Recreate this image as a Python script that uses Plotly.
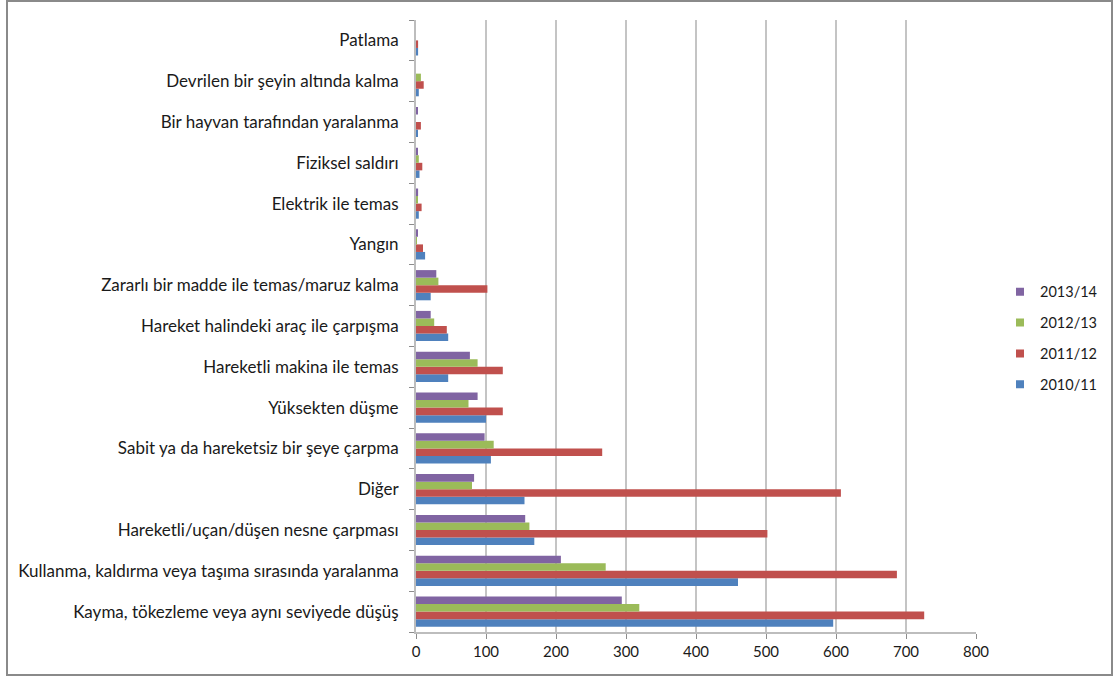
import plotly.graph_objects as go

categories = [
    "Kayma, tökezleme veya aynı seviyede düşüş",
    "Kullanma, kaldırma veya taşıma sırasında yaralanma",
    "Hareketli/uçan/düşen nesne çarpması",
    "Diğer",
    "Sabit ya da hareketsiz bir şeye çarpma",
    "Yüksekten düşme",
    "Hareketli makina ile temas",
    "Hareket halindeki araç ile çarpışma",
    "Zararlı bir madde ile temas/maruz kalma",
    "Yangın",
    "Elektrik ile temas",
    "Fiziksel saldırı",
    "Bir hayvan tarafından yaralanma",
    "Devrilen bir şeyin altında kalma",
    "Patlama",
]

v_2010_11 = [596, 460, 169, 155, 107, 100, 46, 46, 21, 13, 4, 5, 2, 4, 3]
v_2011_12 = [726, 687, 502, 607, 266, 124, 124, 44, 102, 10, 8, 9, 7, 11, 3]
v_2012_13 = [319, 271, 162, 80, 111, 75, 88, 26, 32, 1, 2, 4, 0, 7, 0]
v_2013_14 = [294, 207, 156, 83, 98, 88, 77, 21, 29, 2, 3, 2, 2, 0, 0]

series = [
    ("2010/11", v_2010_11, "#4F81BD"),
    ("2011/12", v_2011_12, "#C0504D"),
    ("2012/13", v_2012_13, "#9BBB59"),
    ("2013/14", v_2013_14, "#8064A2"),
]

x_ticks = [0, 100, 200, 300, 400, 500, 600, 700, 800]

fig = go.Figure()
for name, vals, color in series:
    fig.add_trace(go.Bar(
        y=categories, x=vals, name=name, orientation="h",
        marker=dict(color=color, line=dict(width=0)),
        showlegend=False,
    ))
# legend entries with small square symbols (Excel style), newest on top
n = len(series)
for i, (name, vals, color) in enumerate(series):
    fig.add_trace(go.Scatter(
        x=[None], y=[None], mode="markers", name=name,
        marker=dict(symbol="square", size=8, color=color),
        legendgroup=name, legendrank=n - i, showlegend=True,
    ))

font_family = "Lato, Open Sans, DejaVu Sans, sans-serif"

L, R, T, B = 416, 976, 20, 632
W, H = R - L, B - T

fig.update_layout(
    width=1115, height=677,
    margin=dict(l=L, r=1115 - R, t=T, b=677 - B, autoexpand=False),
    paper_bgcolor="white", plot_bgcolor="white",
    barmode="group", bargap=0.26, bargroupgap=0,
    font=dict(family=font_family, size=15, color="#1a1a1a"),
    showlegend=True,
    legend=dict(
        x=(1000 - L) / W, y=0.582, xanchor="left", yanchor="top",
        traceorder="grouped", tracegroupgap=9,
        font=dict(size=14.5, color="#1a1a1a"),
        itemwidth=30, bgcolor="rgba(0,0,0,0)",
    ),
    xaxis=dict(
        range=[0, 800], tickvals=x_ticks,
        showgrid=True, gridcolor="#c4c4c4", gridwidth=2,
        showline=True, linecolor="#bdbdbd", linewidth=2,
        ticks="outside", ticklen=5, tickcolor="#8c8c8c",
        zeroline=False, tickfont=dict(size=15),
    ),
    yaxis=dict(
        categoryorder="array", categoryarray=categories,
        showline=True, linecolor="#bdbdbd", linewidth=2,
        ticks="outside", ticklen=5, tickcolor="#8c8c8c", tickson="boundaries",
        showgrid=False, tickfont=dict(size=17),
        ticklabelstandoff=12,
    ),
    shapes=[dict(
        type="rect", xref="paper", yref="paper",
        x0=(7 - L) / W, x1=(1112 - L) / W,
        y0=(B - 675) / H, y1=(B - 1) / H,
        line=dict(color="#8a8a8a", width=2), fillcolor="rgba(0,0,0,0)",
        layer="below",
    )],
)

fig.write_html(
    "out.html",
    config={"displayModeBar": False},
    post_script="document.body.style.margin='0';document.body.style.padding='0';",
)
